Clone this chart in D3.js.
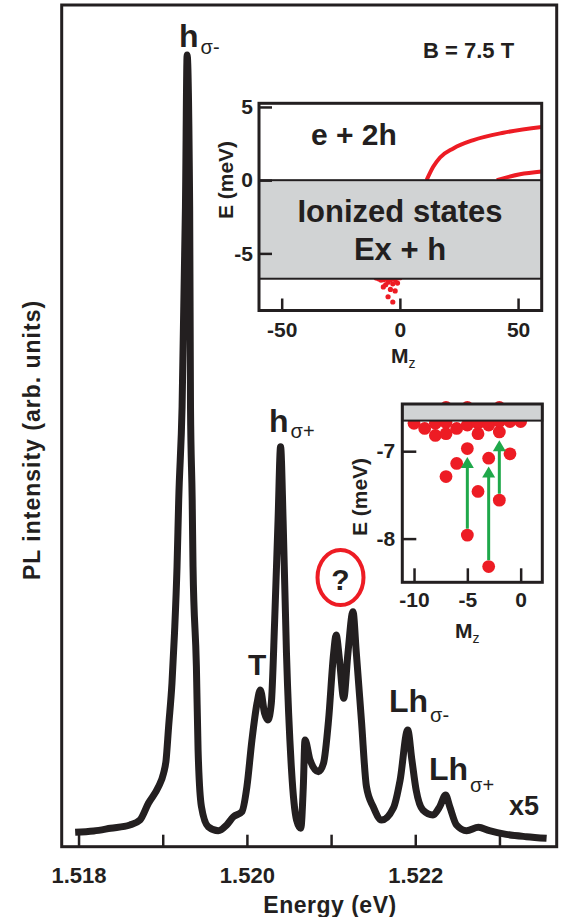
<!DOCTYPE html>
<html>
<head>
<meta charset="utf-8">
<script src="https://cdn.jsdelivr.net/npm/d3@7"></script>
<style>
  body { margin: 0; background: #fff; }
  text { font-family: "Liberation Sans", Arial, sans-serif; fill: #231f20; }
</style>
</head>
<body>
<script>
// PL spectrum at B = 7.5 T (x5 part already scaled in the source)
var energy = [1.51796, 1.51818, 1.51838, 1.51861, 1.51873, 1.51883, 1.51895, 1.51901, 1.51904, 1.51907,
              1.51911, 1.51914, 1.51917, 1.51919, 1.51923, 1.51927, 1.51929, 1.51932, 1.51933, 1.51935,
              1.51936, 1.51940, 1.51942, 1.51946, 1.51954, 1.51966, 1.51976, 1.51984, 1.51994, 1.52000,
              1.52006, 1.52012, 1.52016, 1.52021, 1.52025, 1.52029, 1.52033, 1.52037, 1.52040, 1.52043,
              1.52047, 1.52053, 1.52059, 1.52064, 1.52067, 1.52069, 1.52075, 1.52085, 1.52091, 1.52097,
              1.52103, 1.52106, 1.52110, 1.52115, 1.52120, 1.52126, 1.52130, 1.52136, 1.52142, 1.52150,
              1.52160, 1.52174, 1.52182, 1.52191, 1.52196, 1.52201, 1.52209, 1.52221, 1.52229, 1.52236,
              1.52241, 1.52249, 1.52261, 1.52275, 1.52288, 1.52308, 1.52332, 1.52356];
var intensity = [1.71, 1.87, 2.19, 2.58, 3.17, 5.16, 7.13, 8.72, 10.3, 14.26,
                 19.45, 25.39, 33.27, 41.19, 52.27, 76.04, 94.06, 76.04, 52.27, 41.19,
                 33.27, 21.39, 11.49, 4.75, 2.38, 1.90, 2.58, 3.56, 4.16, 7.13,
                 12.68, 17.04, 18.62, 15.85, 15.05, 17.04, 26.93, 38.81, 47.52, 38.81,
                 22.98, 9.11, 3.17, 2.19, 7.13, 12.68, 10.3, 8.91, 9.91, 15.05,
                 22.98, 25.15, 22.18, 17.63, 22.98, 27.92, 22.98, 15.05, 7.13, 4.75,
                 3.17, 4.6, 7.92, 13.86, 10.3, 6.74, 4.36, 3.77, 4.75, 6.14,
                 4.75, 2.58, 1.90, 2.30, 1.90, 1.47, 1.19, 1.0];
var energyTicks = [1.518, 1.519, 1.520, 1.521, 1.522, 1.523];
var energyLabels = ["1.518", "", "1.520", "", "1.522", ""];

// e + 2h states (both insets)
var stateMz = [-10, -9, -8, -8, -7, -7, -7, -7, -6, -6, -5, -5, -5, -5, -4, -4, -4, -3, -3, -3, -2, -2, -2, -2, -1, -1, 0];
var stateE = [-6.68, -6.74, -6.82, -6.68, -7.29, -6.80, -6.67, -6.50, -7.14, -6.74, -7.96, -6.97, -6.70, -6.50,
              -7.46, -6.80, -6.68, -8.32, -7.08, -6.70, -7.56, -6.78, -6.66, -6.50, -7.03, -6.66, -6.66];
var upperMz = [11.3, 14.1, 17, 22.6, 31.1, 43.8, 60];
var upperE = [0, 0.91, 1.55, 2.17, 2.74, 3.24, 3.63];
var lowerMz = [41, 50.8, 60];
var lowerE = [0, 0.41, 0.6];
var ionizedTop = 0, ionizedBottom = -6.73;
var inset2Band = -6.65;
var arrowMz = [-5, -3, -2];
var arrowFromE = [-7.96, -8.32, -7.56];
var arrowToE = [-6.97, -7.08, -6.78];

var ink = "#231f20", red = "#ed1c24", green = "#1fa84a", grey = "#d1d3d4";

var svg = d3.select("body").append("svg")
            .attr("width", 561)
            .attr("height", 917);

//主图
var x = d3.scaleLinear().domain([1.5178, 1.52368]).range([61.7, 556.7]);
var y = d3.scaleLinear().domain([0, 100]).range([846.7, 5]);

svg.append("g")
   .attr("transform", "translate(0," + y(0) + ")")
   .call(d3.axisBottom(x).tickValues(energyTicks).tickSize(-12).tickPadding(21)
           .tickFormat(function(d, i){ return energyLabels[i]; }))
   .call(function(g){
       g.select(".domain").remove();
       g.selectAll("line").attr("stroke", ink).attr("stroke-width", 2.5);
       g.selectAll("text").attr("fill", ink).style("font-size", "22px").style("font-weight", "bold");
   });

var line = d3.line()
             .x(function(d){ return x(d[0]); })
             .y(function(d){ return y(d[1]); })
             .curve(d3.curveMonotoneX);
svg.append("path")
   .datum(energy.map(function(e, i){ return [e, intensity[i]]; }))
   .attr("d", line)
   .attr("fill", "none")
   .attr("stroke", ink)
   .attr("stroke-width", 7)
   .attr("stroke-linejoin", "round");

svg.append("rect")
   .attr("x", x.range()[0]).attr("y", y.range()[1])
   .attr("width", x.range()[1] - x.range()[0])
   .attr("height", y.range()[0] - y.range()[1])
   .attr("fill", "none").attr("stroke", ink).attr("stroke-width", 3);

svg.append("text")
   .attr("transform", "translate(40,440) rotate(-90)")
   .attr("text-anchor", "middle")
   .style("font-size", "23px").style("font-weight", "bold").style("letter-spacing", "1px")
   .text("PL intensity (arb. units)");
svg.append("text")
   .attr("x", 330).attr("y", 913)
   .attr("text-anchor", "middle")
   .style("font-size", "23px").style("font-weight", "bold").style("letter-spacing", "0.5px")
   .text("Energy (eV)");

// peak labels
function peakLabel(px, py, main, sub, size, subDy){
    var t = svg.append("text").attr("x", px).attr("y", py)
               .style("font-size", size + "px").style("font-weight", "bold");
    t.append("tspan").text(main);
    if (sub) {
        t.append("tspan").attr("dx", 2).attr("dy", subDy)
         .style("font-size", "20px").style("font-weight", "normal").text(sub);
    }
}
peakLabel(179, 47, "h", "σ-", 32, 7);
peakLabel(269, 432, "h", "σ+", 32, 6);
peakLabel(389, 712, "Lh", "σ-", 32, 10);
peakLabel(429, 780, "Lh", "σ+", 32, 12);
peakLabel(248, 675, "T", null, 30, 0);
peakLabel(509, 815, "x5", null, 27, 0);
peakLabel(423, 58, "B = 7.5 T", null, 22, 0);

svg.append("ellipse")
   .attr("cx", 340.5).attr("cy", 577.5).attr("rx", 23).attr("ry", 27.5)
   .attr("fill", "none").attr("stroke", red).attr("stroke-width", 4);
svg.append("text")
   .attr("x", 340.5).attr("y", 590)
   .attr("text-anchor", "middle")
   .style("font-size", "30px").style("font-weight", "bold")
   .text("?");

// inset helpers
function plainNum(d){ return String(d); }
function styleAxis(g, size){
    g.select(".domain").remove();
    g.selectAll("line").attr("stroke", ink).attr("stroke-width", 2.5);
    g.selectAll("text").attr("fill", ink).style("font-size", size + "px").style("font-weight", "bold");
}
function mzLabel(px, py){
    var t = svg.append("text").attr("x", px).attr("y", py)
               .style("font-size", "21px").style("font-weight", "bold");
    t.append("tspan").text("M");
    t.append("tspan").attr("dy", 5).style("font-size", "14px").style("font-weight", "normal").text("z");
}

// inset 1
var x1 = d3.scaleLinear().domain([-59.6, 60]).range([259, 541.7]);
var y1 = d3.scaleLinear().domain([-8.9, 5.25]).range([310.5, 103.3]);
var inset1 = svg.append("g");
inset1.append("rect")
      .attr("x", x1.range()[0]).attr("y", y1.range()[1])
      .attr("width", x1.range()[1] - x1.range()[0]).attr("height", y1.range()[0] - y1.range()[1])
      .attr("fill", "#fff");
svg.append("clipPath").attr("id", "clip1").append("rect")
   .attr("x", x1.range()[0]).attr("y", y1.range()[1])
   .attr("width", x1.range()[1] - x1.range()[0]).attr("height", y1.range()[0] - y1.range()[1]);
var plot1 = inset1.append("g").attr("clip-path", "url(#clip1)");
plot1.selectAll("circle")
     .data(stateMz.map(function(m, i){ return [m, stateE[i]]; }))
     .enter().append("circle")
     .attr("cx", function(d){ return x1(d[0]); })
     .attr("cy", function(d){ return y1(d[1]); })
     .attr("r", 2.6)
     .attr("fill", red);
var line1 = d3.line()
              .x(function(d){ return x1(d[0]); })
              .y(function(d){ return y1(d[1]); })
              .curve(d3.curveMonotoneX);
[[upperMz, upperE], [lowerMz, lowerE]].forEach(function(c){
    plot1.append("path")
         .datum(c[0].map(function(m, i){ return [m, c[1][i]]; }))
         .attr("d", line1)
         .attr("fill", "none").attr("stroke", red).attr("stroke-width", 4);
});
plot1.append("rect")
     .attr("x", x1.range()[0]).attr("y", y1(ionizedTop))
     .attr("width", x1.range()[1] - x1.range()[0])
     .attr("height", y1(ionizedBottom) - y1(ionizedTop))
     .attr("fill", grey).attr("stroke", ink).attr("stroke-width", 2);
inset1.append("g")
      .attr("transform", "translate(" + x1.range()[0] + ",0)")
      .call(d3.axisLeft(y1).tickValues([5, 0, -5]).tickSize(-13).tickPadding(6).tickFormat(plainNum))
      .call(styleAxis, 21);
inset1.append("g")
      .attr("transform", "translate(0," + y1.range()[0] + ")")
      .call(d3.axisBottom(x1).tickValues([-50, 0, 50]).tickSize(-12).tickPadding(12).tickFormat(plainNum))
      .call(styleAxis, 21);
inset1.append("rect")
      .attr("x", x1.range()[0]).attr("y", y1.range()[1])
      .attr("width", x1.range()[1] - x1.range()[0]).attr("height", y1.range()[0] - y1.range()[1])
      .attr("fill", "none").attr("stroke", ink).attr("stroke-width", 3);
inset1.append("text").attr("x", 311).attr("y", 145)
      .style("font-size", "30px").style("font-weight", "bold").text("e + 2h");
inset1.append("text").attr("x", 400).attr("y", 222).attr("text-anchor", "middle")
      .style("font-size", "31px").style("font-weight", "bold").text("Ionized states");
inset1.append("text").attr("x", 400).attr("y", 260).attr("text-anchor", "middle")
      .style("font-size", "31px").style("font-weight", "bold").text("Ex + h");
inset1.append("text")
      .attr("transform", "translate(233,180) rotate(-90)")
      .attr("text-anchor", "middle")
      .style("font-size", "21px").style("font-weight", "bold")
      .text("E (meV)");
mzLabel(391, 363);

// inset 2
var x2 = d3.scaleLinear().domain([-11.1, 2.03]).range([402.3, 542.3]);
var y2 = d3.scaleLinear().domain([-8.5, -6.46]).range([582.3, 404]);
var inset2 = svg.append("g");
inset2.append("rect")
      .attr("x", x2.range()[0]).attr("y", y2.range()[1])
      .attr("width", x2.range()[1] - x2.range()[0]).attr("height", y2.range()[0] - y2.range()[1])
      .attr("fill", "#fff");
inset2.selectAll("circle")
      .data(stateMz.map(function(m, i){ return [m, stateE[i]]; }))
      .enter().append("circle")
      .attr("cx", function(d){ return x2(d[0]); })
      .attr("cy", function(d){ return y2(d[1]); })
      .attr("r", 6.4)
      .attr("fill", red);
inset2.append("rect")
      .attr("x", x2.range()[0]).attr("y", y2.range()[1])
      .attr("width", x2.range()[1] - x2.range()[0])
      .attr("height", y2(inset2Band) - y2.range()[1])
      .attr("fill", grey).attr("stroke", ink).attr("stroke-width", 2);

// green transitions
var r2 = 6.4;
arrowMz.forEach(function(m, i){
    var ax = x2(m);
    var y0 = y2(arrowFromE[i]) - r2;
    var yTip = y2(arrowToE[i]) + r2 + 2;
    var headLen = 11, headHalf = 6.5;
    inset2.append("line")
          .attr("x1", ax).attr("x2", ax)
          .attr("y1", y0).attr("y2", yTip + headLen - 1)
          .attr("stroke", green).attr("stroke-width", 3);
    inset2.append("path")
          .attr("d", "M" + ax + "," + yTip + "L" + (ax - headHalf) + "," + (yTip + headLen) +
                     "L" + (ax + headHalf) + "," + (yTip + headLen) + "Z")
          .attr("fill", green);
});

inset2.append("g")
      .attr("transform", "translate(" + x2.range()[0] + ",0)")
      .call(d3.axisLeft(y2).tickValues([-7, -8]).tickSize(-14).tickPadding(7).tickFormat(plainNum))
      .call(styleAxis, 21);
inset2.append("g")
      .attr("transform", "translate(0," + y2.range()[0] + ")")
      .call(d3.axisBottom(x2).tickValues([-10, -5, 0]).tickSize(-14).tickPadding(9.5).tickFormat(plainNum))
      .call(styleAxis, 21);
inset2.append("rect")
      .attr("x", x2.range()[0]).attr("y", y2.range()[1])
      .attr("width", x2.range()[1] - x2.range()[0]).attr("height", y2.range()[0] - y2.range()[1])
      .attr("fill", "none").attr("stroke", ink).attr("stroke-width", 3);
inset2.append("text")
      .attr("transform", "translate(367,497) rotate(-90)")
      .attr("text-anchor", "middle")
      .style("font-size", "21px").style("font-weight", "bold")
      .text("E (meV)");
mzLabel(455, 638);
</script>
</body>
</html>
